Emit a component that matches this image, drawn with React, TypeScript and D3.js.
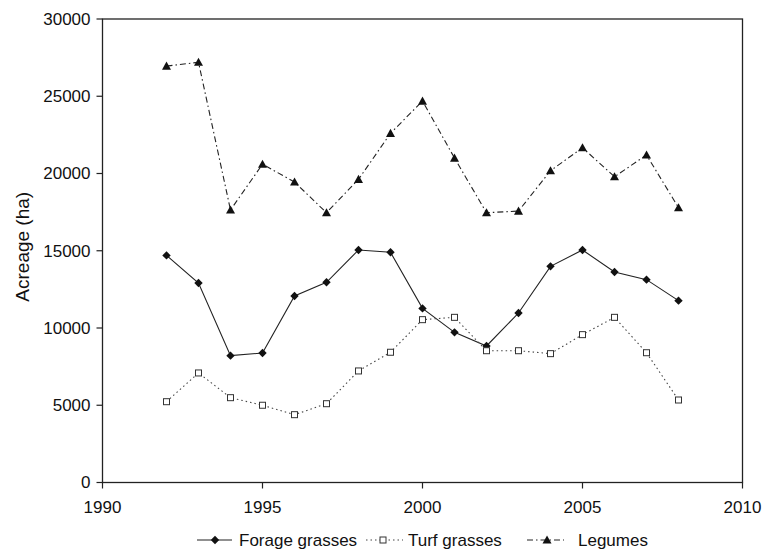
import React from "react";
import * as d3 from "d3";

const years = [1992,1993,1994,1995,1996,1997,1998,1999,2000,2001,2002,2003,2004,2005,2006,2007,2008];
const forage = [14700,12910,8210,8380,12070,12960,15050,14900,11270,9720,8835,10970,13990,15050,13620,13130,11770];
const turf = [5230,7090,5490,5000,4390,5100,7220,8430,10540,10690,8530,8530,8340,9570,10690,8400,5340];
const legumes = [26950,27200,17640,20600,19450,17460,19620,22600,24690,21000,17460,17570,20180,21670,19790,21200,17790];
const xTicks = [1990,1995,2000,2005,2010];
const yTicks = [0,5000,10000,15000,20000,25000,30000];
const seriesNames = ["Forage grasses","Turf grasses","Legumes"];

const W = 763, H = 550;
const L = 102.5, R = 742.5, T = 19, B = 482.5;
const FONT = "'Liberation Sans', Arial, Helvetica, sans-serif";

function Marker({ kind, x, y }: { kind: string; x: number; y: number }) {
  if (kind === "diamond") {
    const s = 4.2;
    return <path d={`M${x},${y - s}L${x + s},${y}L${x},${y + s}L${x - s},${y}Z`} fill="#111" />;
  }
  if (kind === "square") {
    return <rect x={x - 3} y={y - 3} width={6} height={6} fill="#fff" stroke="#333" strokeWidth={1} />;
  }
  const s = 4.5;
  return <path d={`M${x},${y - s}L${x + s},${y + s * 0.8}L${x - s},${y + s * 0.8}Z`} fill="#111" />;
}

export default function App() {
  const x = d3.scaleLinear().domain([1990, 2010]).range([L, R]);
  const y = d3.scaleLinear().domain([0, 30000]).range([B, T]);
  const line = d3.line<[number, number]>().x(d => x(d[0])).y(d => y(d[1]));
  const series = [
    { name: seriesNames[0], data: forage, dash: "", marker: "diamond", color: "#222" },
    { name: seriesNames[1], data: turf, dash: "1.5,3", marker: "square", color: "#444" },
    { name: seriesNames[2], data: legumes, dash: "6,3,1.5,3", marker: "triangle", color: "#222" },
  ];
  const legend = [
    { x0: 197, x1: 232, mx: 215, tx: 239 },
    { x0: 366, x1: 403, mx: 383, tx: 408 },
    { x0: 527, x1: 564, mx: 547, tx: 578 },
  ];
  const ly = 540;
  return (
    <svg width={W} height={H} style={{ position: "absolute", left: 0, top: 0 }} fontFamily={FONT}>
      <rect width={W} height={H} fill="#fff" />
      {series.map(s => (
        <path key={s.name} d={line(years.map((yr, i) => [yr, s.data[i]] as [number, number])) || ""}
          fill="none" stroke={s.color} strokeWidth={1.1} strokeDasharray={s.dash} />
      ))}
      {series.map(s => years.map((yr, i) => (
        <Marker key={s.name + yr} kind={s.marker} x={x(yr)} y={y(s.data[i])} />
      )))}
      <rect x={L} y={T} width={R - L} height={B - T} fill="none" stroke="#222" strokeWidth={1.3} />
      {yTicks.map(t => (
        <g key={t}>
          <line x1={L - 6} x2={L} y1={y(t)} y2={y(t)} stroke="#222" strokeWidth={1.2} />
          <text x={L - 12} y={y(t)} dy="0.35em" textAnchor="end" fontSize={17} fill="#111">{t}</text>
        </g>
      ))}
      {xTicks.map(t => (
        <g key={t}>
          <line x1={x(t)} x2={x(t)} y1={B} y2={B + 6} stroke="#222" strokeWidth={1.2} />
          <text x={x(t)} y={B + 30} textAnchor="middle" fontSize={17} fill="#111">{t}</text>
        </g>
      ))}
      <text transform={`translate(29,${(T + B) / 2 - 4}) rotate(-90)`} textAnchor="middle" fontSize={19} fill="#111">Acreage (ha)</text>
      {series.map((s, i) => (
        <g key={"lg" + s.name}>
          <line x1={legend[i].x0} x2={legend[i].x1} y1={ly} y2={ly} stroke={s.color} strokeWidth={1.1} strokeDasharray={s.dash} />
          <Marker kind={s.marker} x={legend[i].mx} y={ly} />
          <text x={legend[i].tx} y={ly} dy="0.35em" fontSize={17} fill="#111">{s.name}</text>
        </g>
      ))}
    </svg>
  );
}
